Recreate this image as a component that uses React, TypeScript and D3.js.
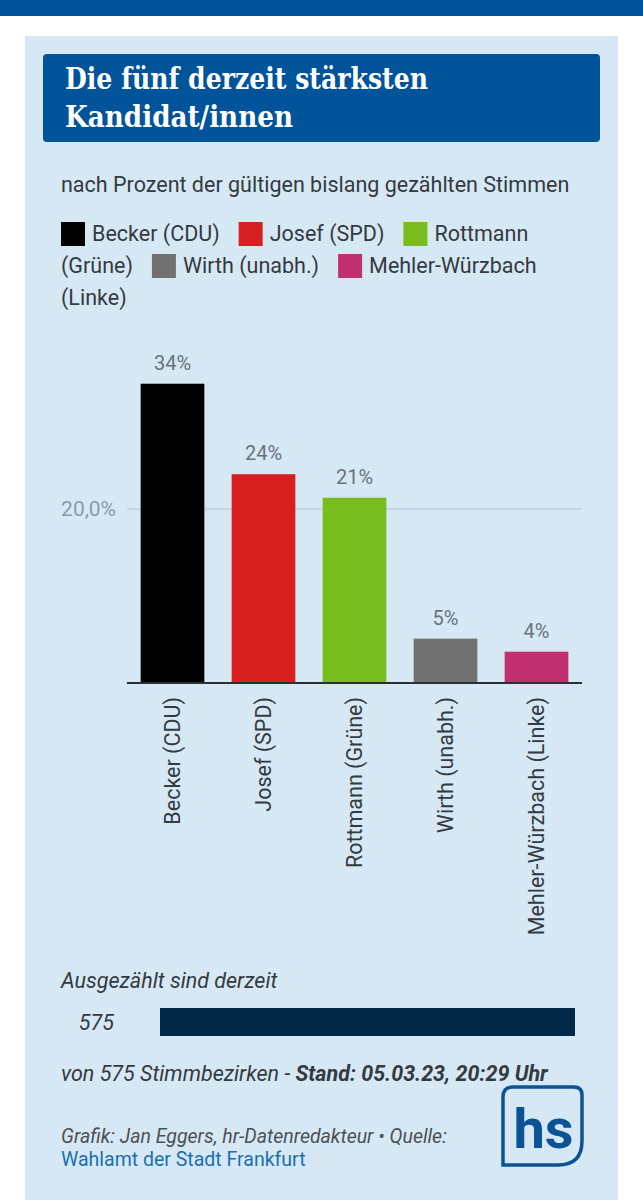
import React, { useEffect, useRef } from 'react';
import * as d3 from 'd3';

// Stimmenanteile der fünf stärksten Kandidat/innen (in Prozent)
const candidates = ["Becker (CDU)", "Josef (SPD)", "Rottmann (Grüne)", "Wirth (unabh.)", "Mehler-Würzbach (Linke)"];
const shares = [34.4, 24.0, 21.3, 5.1, 3.6];
const partyColors = ["#000000", "#d61f1f", "#79bc1d", "#717171", "#c0306f"];
const yTicks = [20];

// Auszählungsstand
const countedDistricts = 575;
const totalDistricts = 575;

const WIDTH = 643;
const HEIGHT = 1200;
const FONT = "Roboto, 'Noto Sans', sans-serif";
const TEXT_SIZE = "21.5px";

const App: React.FC = () => {
  const svgRef = useRef<SVGSVGElement>(null);

  useEffect(() => {
    if (!svgRef.current) return;
    const svg = d3.select(svgRef.current);
    svg.selectAll("*").remove();

    // top band + white page
    svg.append("rect").attr("width", WIDTH).attr("height", HEIGHT).attr("fill", "#ffffff");
    svg.append("rect").attr("width", WIDTH).attr("height", 16).attr("fill", "#00529b");

    // light blue card
    svg.append("rect")
      .attr("x", 25).attr("y", 36)
      .attr("width", 593).attr("height", HEIGHT - 36)
      .attr("fill", "#d7e8f5");

    // title box
    svg.append("rect")
      .attr("x", 43).attr("y", 54)
      .attr("width", 557).attr("height", 88)
      .attr("rx", 4)
      .attr("fill", "#01539a");

    const titleLines = ["Die fünf derzeit stärksten", "Kandidat/innen"];
    const titleWidths = [363, 228];
    titleLines.forEach((line, i) => {
      svg.append("text")
        .attr("x", 65)
        .attr("y", 89 + i * 38)
        .attr("font-family", "'DejaVu Serif', serif")
        .attr("font-size", "29px")
        .attr("font-weight", 600)
        .attr("fill", "#ffffff")
        .attr("textLength", titleWidths[i])
        .attr("lengthAdjust", "spacingAndGlyphs")
        .text(line);
    });

    // subtitle
    svg.append("text")
      .attr("x", 61).attr("y", 192)
      .attr("font-family", FONT)
      .attr("font-size", TEXT_SIZE)
      .attr("fill", "#333a40")
      .text("nach Prozent der gültigen bislang gezählten Stimmen");

    // legend: inline flow, wraps word by word like HTML text
    const legend = svg.append("g");
    const legendLeft = 61;
    const legendRight = 582;
    const lineH = 32;
    const swatch = 24;
    let cx = legendLeft;
    let row = 0;
    const baseY = 241;

    const measure = (s: string) => {
      const t = legend.append("text")
        .attr("font-family", FONT).attr("font-size", TEXT_SIZE).text(s);
      const w = (t.node() as SVGTextElement).getComputedTextLength();
      t.remove();
      return w;
    };
    const spaceW = measure("a a") - measure("aa");

    candidates.forEach((name, i) => {
      const words = name.split(" ");
      const firstW = measure(words[0]);
      if (cx > legendLeft && cx + swatch + 7 + firstW > legendRight) {
        cx = legendLeft;
        row += 1;
      }
      const y = baseY + row * lineH;
      legend.append("rect")
        .attr("x", cx).attr("y", y - 19)
        .attr("width", swatch).attr("height", swatch)
        .attr("fill", partyColors[i]);
      cx += swatch + 7;
      words.forEach((w, k) => {
        const ww = measure(w);
        if (k > 0) {
          if (cx + spaceW + ww > legendRight) {
            cx = legendLeft;
            row += 1;
          } else {
            cx += spaceW;
          }
        }
        legend.append("text")
          .attr("x", cx).attr("y", baseY + row * lineH)
          .attr("font-family", FONT).attr("font-size", TEXT_SIZE)
          .attr("fill", "#333a40")
          .text(w);
        cx += ww;
      });
      cx += 19;
    });

    // bar chart
    const x = d3.scaleBand<string>()
      .domain(candidates)
      .range([127, 582])
      .paddingInner(0.3)
      .paddingOuter(0.15);

    const y = d3.scaleLinear()
      .domain([0, 40])
      .range([683, 335]);

    const chart = svg.append("g");

    chart.selectAll(".grid")
      .data(yTicks)
      .enter()
      .append("line")
      .attr("class", "grid")
      .attr("x1", 127).attr("x2", 582)
      .attr("y1", d => y(d)).attr("y2", d => y(d))
      .attr("stroke", "#bcd0de")
      .attr("stroke-width", 1.5);

    chart.selectAll(".tick-label")
      .data(yTicks)
      .enter()
      .append("text")
      .attr("class", "tick-label")
      .attr("x", 116)
      .attr("y", d => y(d))
      .attr("dy", "0.35em")
      .attr("text-anchor", "end")
      .attr("font-family", FONT)
      .attr("font-size", "21px")
      .attr("fill", "#8a9aa8")
      .text(d => `${d3.format(".1f")(d).replace(".", ",")}%`);

    chart.selectAll(".bar")
      .data(shares)
      .enter()
      .append("rect")
      .attr("class", "bar")
      .attr("x", (_, i) => x(candidates[i]) || 0)
      .attr("width", x.bandwidth())
      .attr("y", d => y(d))
      .attr("height", d => y(0) - y(d))
      .attr("fill", (_, i) => partyColors[i]);

    chart.selectAll(".value")
      .data(shares)
      .enter()
      .append("text")
      .attr("class", "value")
      .attr("x", (_, i) => (x(candidates[i]) || 0) + x.bandwidth() / 2)
      .attr("y", d => y(d) - 14)
      .attr("text-anchor", "middle")
      .attr("font-family", FONT)
      .attr("font-size", "20px")
      .attr("fill", "#68737d")
      .text(d => `${d3.format(".0f")(d)}%`);

    // baseline
    chart.append("line")
      .attr("x1", 127).attr("x2", 582)
      .attr("y1", y(0)).attr("y2", y(0))
      .attr("stroke", "#2a2f33")
      .attr("stroke-width", 2);

    // rotated category labels
    chart.selectAll(".cat")
      .data(candidates)
      .enter()
      .append("text")
      .attr("class", "cat")
      .attr("transform", d => `translate(${(x(d) || 0) + x.bandwidth() / 2},${y(0) + 14}) rotate(-90)`)
      .attr("dy", "0.35em")
      .attr("text-anchor", "end")
      .attr("font-family", FONT)
      .attr("font-size", TEXT_SIZE)
      .attr("fill", "#333a40")
      .text(d => d);

    // counting progress
    svg.append("text")
      .attr("x", 61).attr("y", 988)
      .attr("font-family", FONT).attr("font-size", TEXT_SIZE)
      .attr("font-style", "italic").attr("fill", "#333a40")
      .text("Ausgezählt sind derzeit");

    const progress = d3.scaleLinear().domain([0, totalDistricts]).range([160, 575]);
    svg.append("text")
      .attr("x", 114).attr("y", 1022)
      .attr("dy", "0.35em")
      .attr("text-anchor", "end")
      .attr("font-family", FONT).attr("font-size", TEXT_SIZE)
      .attr("font-style", "italic").attr("fill", "#333a40")
      .text(String(countedDistricts));
    svg.append("rect")
      .attr("x", progress(0)).attr("y", 1008)
      .attr("width", progress(countedDistricts) - progress(0))
      .attr("height", 28)
      .attr("fill", "#012847");

    const status = svg.append("text")
      .attr("x", 61).attr("y", 1081)
      .attr("font-family", FONT).attr("font-size", TEXT_SIZE)
      .attr("font-style", "italic").attr("fill", "#333a40");
    status.append("tspan").text(`von ${totalDistricts} Stimmbezirken - `);
    status.append("tspan").attr("font-weight", 700).text("Stand: 05.03.23, 20:29 Uhr");

    // credits
    svg.append("text")
      .attr("x", 61).attr("y", 1143)
      .attr("font-family", FONT).attr("font-size", "19.5px")
      .attr("font-style", "italic").attr("fill", "#4a5157")
      .text("Grafik: Jan Eggers, hr-Datenredakteur • Quelle:");
    svg.append("text")
      .attr("x", 61).attr("y", 1166)
      .attr("font-family", FONT).attr("font-size", "19.5px")
      .attr("fill", "#1a6fb0")
      .text("Wahlamt der Stadt Frankfurt");

    // hs logo
    const lx0 = 503, ly0 = 1087, lx1 = 582, ly1 = 1165;
    const logo = d3.path();
    logo.moveTo(lx0 + 10, ly0);
    logo.lineTo(lx1 - 8, ly0);
    logo.quadraticCurveTo(lx1, ly0, lx1, ly0 + 8);
    logo.lineTo(lx1, ly1 - 24);
    logo.quadraticCurveTo(lx1, ly1, lx1 - 24, ly1);
    logo.lineTo(lx0, ly1);
    logo.lineTo(lx0, ly0 + 10);
    logo.quadraticCurveTo(lx0, ly0, lx0 + 10, ly0);
    logo.closePath();
    svg.append("path")
      .attr("d", logo.toString())
      .attr("fill", "none")
      .attr("stroke", "#0b5394")
      .attr("stroke-width", 3.5);
    svg.append("text")
      .attr("x", (lx0 + lx1) / 2 + 1).attr("y", 1148)
      .attr("text-anchor", "middle")
      .attr("font-family", FONT).attr("font-size", "56px")
      .attr("font-weight", 700)
      .attr("fill", "#0b5394")
      .text("hs");
  }, []);

  return (
    <div style={{ position: "absolute", left: 0, top: 0 }}>
      <svg ref={svgRef} width={WIDTH} height={HEIGHT} style={{ display: "block" }} />
    </div>
  );
};

export default App;
